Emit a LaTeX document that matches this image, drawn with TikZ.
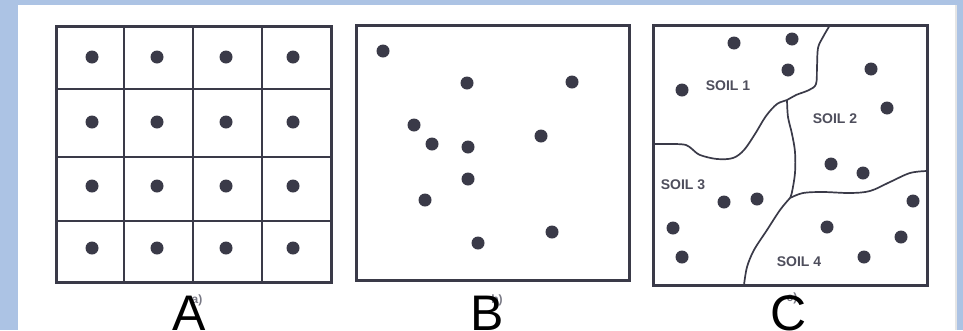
\documentclass[tikz,border=0pt]{standalone}
\usepackage{fontspec}
\setmainfont{Liberation Sans}
\definecolor{bgblue}{RGB}{172,195,228}
\definecolor{ink}{RGB}{58,58,72}
\definecolor{soiltext}{RGB}{78,78,92}
\definecolor{faded}{RGB}{120,120,132}
\begin{document}
\begin{tikzpicture}[x=1pt,y=-1pt,
  dot/.style={circle,fill=ink,inner sep=0pt,minimum size=13pt},
  frame/.style={draw=ink,line width=3pt},
  gridline/.style={draw=ink,line width=2.6pt},
  soil/.style={draw=ink,line width=1.7pt,line join=round},
  soillabel/.style={text=soiltext,font=\bfseries\fontsize{14}{16}\selectfont,inner sep=0pt},
  biglabel/.style={font=\fontsize{50}{60}\selectfont,anchor=base,inner sep=0pt,text=black},
  smalllabel/.style={font=\bfseries\fontsize{12}{14}\selectfont,text=faded,inner sep=0pt}]
\useasboundingbox (0,0) rectangle (963,330);
% background
\fill[bgblue] (0,0) rectangle (963,330);
\fill[white] (18,5) rectangle (955,330);
\fill[gray!20] (955,5) rectangle (957,330);

% ---------- Panel A ----------
\foreach \x in {124,193,262} \draw[gridline] (\x,26) -- (\x,282);
\foreach \y in {89,157,221} \draw[gridline] (56,\y) -- (331,\y);
\draw[frame] (56,26) rectangle (331,282);
\foreach \x [count=\i] in {92,157,226,293}
  \foreach \y [count=\j] in {57,122,186,248}
    \node[dot] (a\i\j) at (\x,\y) {};

% ---------- Panel B ----------
\draw[frame] (356,25) rectangle (629,280);
\node[dot] (b1) at (383,51) {};
\node[dot] (b2) at (467,83) {};
\node[dot] (b3) at (572,82) {};
\node[dot] (b4) at (414,125) {};
\node[dot] (b5) at (432,144) {};
\node[dot] (b6) at (468,147) {};
\node[dot] (b7) at (541,136) {};
\node[dot] (b8) at (468,179) {};
\node[dot] (b9) at (425,200) {};
\node[dot] (b10) at (552,232) {};
\node[dot] (b11) at (478,243) {};

% ---------- Panel C ----------
\coordinate (j1) at (787,100);
\coordinate (j2) at (790,198);
\draw[soil] plot[smooth,tension=0.55] coordinates {(830,25) (823,37) (818,48) (817,67) (816,84) (809,90) (796,95) (787,100) (777,104) (766,116) (755,134) (744,150) (733,158) (717,159) (700,155) (692,149) (686,145) (675,144) (654,144)};
\draw[soil] plot[smooth,tension=0.55] coordinates {(787,100) (788,117) (792,134) (795,152) (795,173) (792,192) (790,198)};
\draw[soil] plot[smooth,tension=0.55] coordinates {(790,198) (803,193) (823,192) (850,193) (870,191) (890,182) (910,173) (927,171)};
\draw[soil] plot[smooth,tension=0.55] coordinates {(790,198) (780,210) (767,230) (754,250) (747,267) (744,285)};
\draw[frame] (653,25) rectangle (927,285);
\node[dot] (c1) at (734,43) {};
\node[dot] (c2) at (792,39) {};
\node[dot] (c3) at (788,70) {};
\node[dot] (c4) at (682,90) {};
\node[dot] (c5) at (871,69) {};
\node[dot] (c6) at (887,108) {};
\node[dot] (c7) at (831,164) {};
\node[dot] (c8) at (863,173) {};
\node[dot] (c9) at (913,201) {};
\node[dot] (c10) at (724,202) {};
\node[dot] (c11) at (757,199) {};
\node[dot] (c12) at (673,228) {};
\node[dot] (c13) at (682,257) {};
\node[dot] (c14) at (827,227) {};
\node[dot] (c15) at (901,237) {};
\node[dot] (c16) at (864,257) {};
\node[soillabel] (s1) at (728,86) {SOIL 1};
\node[soillabel] (s2) at (835,119) {SOIL 2};
\node[soillabel] (s3) at (683,185) {SOIL 3};
\node[soillabel] (s4) at (799,262) {SOIL 4};

% ---------- labels ----------
\node[smalllabel] (sa) at (197,300) {a)};
\node[smalllabel] (sb) at (497,300) {b)};
\node[smalllabel] (sc) at (792,298) {c)};
\node[biglabel] (la) at (189,330) {A};
\node[biglabel] (lb) at (487,330) {B};
\node[biglabel] (lc) at (789,330) {C};
\end{tikzpicture}
\end{document}
